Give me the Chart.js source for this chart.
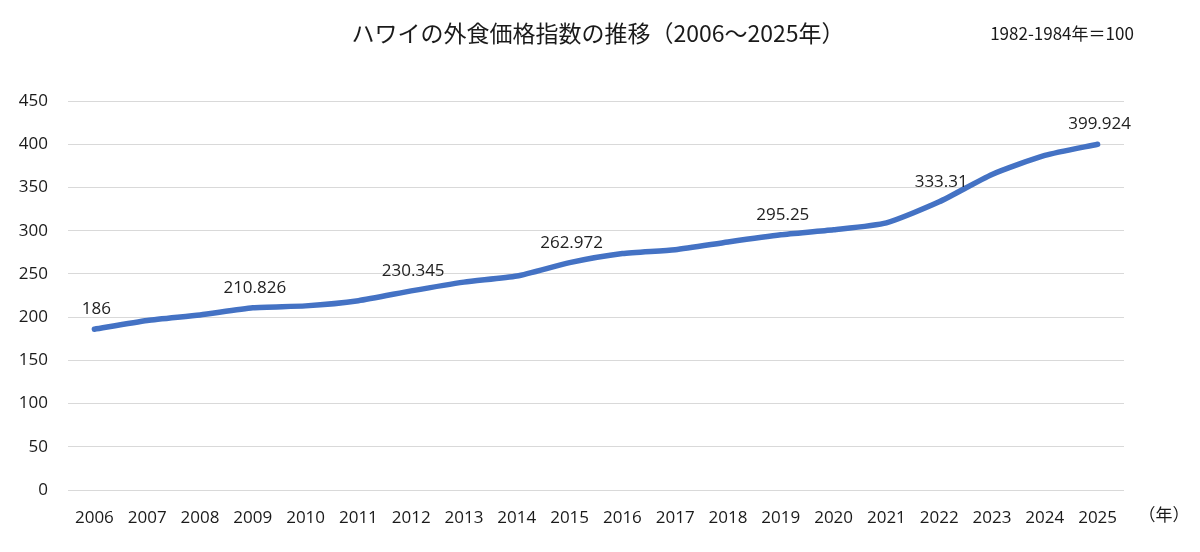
<!DOCTYPE html>
<html lang="ja">
<head>
<meta charset="utf-8">
<title>ハワイの外食価格指数の推移</title>
<script src="https://cdn.jsdelivr.net/npm/chart.js@4.4.1/dist/chart.umd.min.js"></script>
<style>
  html, body { margin: 0; padding: 0; background: #ffffff; }
  #wrap { position: relative; width: 1200px; height: 552px; }
</style>
</head>
<body>
<div id="wrap"><canvas id="chartHawaii"></canvas></div>
<script>
// 年（横軸）
const years = ["2006", "2007", "2008", "2009", "2010", "2011", "2012", "2013", "2014", "2015",
               "2016", "2017", "2018", "2019", "2020", "2021", "2022", "2023", "2024", "2025"];
// 外食価格指数（1982-1984年＝100）
const indexValues = [186, 196, 202.5, 210.826, 213, 219, 230.345, 240.5, 247.5, 262.972,
                     273.5, 278, 287, 295.25, 301, 309, 333.31, 365, 387, 399.924];
// 数値ラベルを付ける年
const labeledYears = ["2006", "2009", "2012", "2015", "2019", "2022", "2025"];
// 縦軸目盛
const yTicks = [0, 50, 100, 150, 200, 250, 300, 350, 400, 450];

const titleText = "ハワイの外食価格指数の推移（2006～2025年）";
const noteText = "1982-1984年＝100";
const unitText = "（年）";

const baseFont = "'Open Sans', 'Noto Sans', sans-serif";
const jpFont = "'Noto Sans CJK JP', 'Noto Sans', sans-serif";

// タイトル・注記・数値ラベルを描く
const textPlugin = {
  id: "textPlugin",
  afterDraw(chart) {
    const c = chart.ctx;
    c.save();
    c.fillStyle = "#1a1a1a";
    c.textBaseline = "middle";

    c.font = "23px " + jpFont;
    c.textAlign = "center";
    c.fillText(titleText, 598, 33);

    c.font = "17px " + jpFont;
    c.textAlign = "center";
    c.fillText(noteText, 1062, 34);

    c.font = "17px " + jpFont;
    c.fillText(unitText, 1164, 515);

    // 数値ラベル
    const meta = chart.getDatasetMeta(0);
    c.font = "17px " + baseFont;
    c.fillStyle = "#222";
    meta.data.forEach((pt, i) => {
      if (labeledYears.includes(years[i])) {
        c.fillText(String(indexValues[i]), pt.x + 2, pt.y - 20);
      }
    });
    c.restore();
  }
};

new Chart(document.getElementById("chartHawaii"), {
  type: "line",
  data: {
    labels: years,
    datasets: [{
      label: "外食価格指数",
      data: indexValues,
      borderColor: "#4472C4",
      borderWidth: 5.5,
      pointRadius: 0,
      tension: 0.2,
      fill: false,
      borderCapStyle: "round",
      borderJoinStyle: "round"
    }]
  },
  options: {
    responsive: true,
    maintainAspectRatio: false,
    animation: false,
    layout: { padding: { top: 101, right: 76, bottom: 0, left: 0 } },
    plugins: {
      legend: { display: false },
      tooltip: { enabled: false }
    },
    scales: {
      x: {
        offset: true,
        grid: { display: false, drawTicks: false },
        border: { display: false },
        ticks: {
          padding: 18,
          maxRotation: 0,
          autoSkip: false,
          color: "#1a1a1a",
          font: { family: baseFont, size: 17 }
        },
        afterFit(scale) { scale.height = 62; }
      },
      y: {
        min: 0,
        max: 450,
        afterBuildTicks(scale) { scale.ticks = yTicks.map(v => ({ value: v })); },
        grid: { color: "#d9d9d9", lineWidth: 1, drawTicks: false },
        border: { display: false },
        ticks: {
          padding: 20,
          color: "#1a1a1a",
          font: { family: baseFont, size: 17 }
        },
        afterFit(scale) { scale.width = 68; }
      }
    }
  },
  plugins: [textPlugin]
});
</script>
</body>
</html>
